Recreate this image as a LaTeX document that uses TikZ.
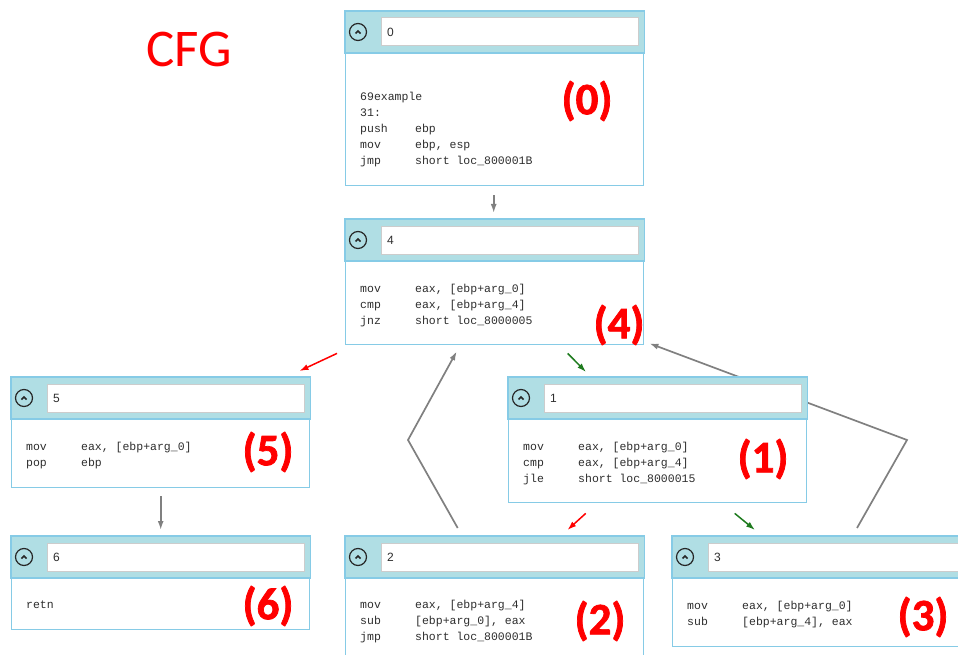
\documentclass[tikz,border=0pt]{standalone}
\usepackage{fontspec}
\setmainfont{Liberation Sans}
\newfontfamily\codefont{Liberation Mono}
\newfontfamily\tagfont{Carlito}
\newfontfamily\tagbold[FakeBold=1.6]{Carlito}
\usetikzlibrary{calc, arrows.meta}
\definecolor{cfgblue}{HTML}{86CBE6}
\definecolor{headblue}{HTML}{B0DEE4}
\definecolor{codegray}{HTML}{2E2E2E}
\definecolor{edgegray}{HTML}{808080}
\definecolor{truegreen}{HTML}{1E7B1E}
\newcommand{\asm}[2]{\strut\makebox[55pt][l]{#1}#2}

\begin{document}
\begin{tikzpicture}[x=1pt, y=-1pt,
    block/.style={draw=cfgblue, line width=1.4pt, fill=white, anchor=north west,
                  minimum width=298pt, inner sep=0pt},
    head/.style={fill=headblue, draw=cfgblue, line width=1.4pt},
    field/.style={fill=white, draw=black!20, line width=1pt},
    icon/.style={draw=black!85, line width=1.2pt},
    code/.style={anchor=north west, align=left, inner sep=0pt, text=codegray,
                 font=\codefont\fontsize{11.5}{16}\selectfont},
    tag/.style={text=red, inner sep=0pt, font=\tagbold\bfseries\fontsize{45}{45}\selectfont},
    flow/.style={draw=edgegray, line width=1.7pt, -{Latex[length=9pt, width=6pt]}},
    falsearc/.style={draw=red, line width=1.5pt, -{Latex[length=9pt, width=6pt]}},
    truearc/.style={draw=truegreen, line width=1.5pt, -{Latex[length=9pt, width=6pt]}}]
        \useasboundingbox (0,0) rectangle (958,655);
        \clip (0,0) rectangle (958,655);
        % blocks
        \node[block, minimum height=174pt] (b0) at (345,11) {};
        \node[block, minimum height=125pt] (b4) at (345,219) {};
        \node[block, minimum height=110pt] (b5) at (11,377) {};
        \node[block, minimum height=125pt] (b1) at (508,377) {};
        \node[block, minimum height=93pt] (b6) at (11,536) {};
        \node[block, minimum height=130pt] (b2) at (345,536) {};
        \node[block, minimum height=110pt] (b3) at (672,536) {};
        % back edges run under block 1
        \coordinate (c24) at (408,440);
        \coordinate (c34) at (907,440);
        \draw[flow] ($(b2.north)+(-37,-8)$) -- (c24) -- ($(b4.south)+(-38,6)$);
        \draw[flow] ($(b3.north west)+(185,-8)$) -- (c34) -- ($(b4.south east)+(5,-2)$);
        \node[block, minimum height=125pt] at (508,377) {};
        % headers
        \foreach \b/\n in {b0/0, b4/4, b5/5, b1/1, b6/6, b2/2, b3/3} {
            \filldraw[head] (\b.north west) rectangle ($(\b.north east)+(0,42)$);
            \draw[field] ($(\b.north west)+(36,7)$) rectangle ($(\b.north east)+(-6,35)$);
            \draw[icon] ($(\b.north west)+(13,21)$) circle (8.5pt);
            \draw[icon, line width=1.6pt] ($(\b.north west)+(10.5,22.5)$) -- ++(2.5,-2.5) -- ++(2.5,2.5);
            \node[anchor=west, inner sep=0pt, font=\fontsize{12}{14}\selectfont, text=codegray]
                (h\n) at ($(\b.north west)+(42,21)$) {\n};
        }
        % code
        \node[code] (t0) at ($(b0.north west)+(15,78)$)
            {\asm{69example}{}\\ \asm{31:}{}\\ \asm{push}{ebp}\\ \asm{mov}{ebp, esp}\\
             \asm{jmp}{short loc\_800001B}};
        \node[code] (t4) at ($(b4.north west)+(15,62)$)
            {\asm{mov}{eax, [ebp+arg\_0]}\\ \asm{cmp}{eax, [ebp+arg\_4]}\\
             \asm{jnz}{short loc\_8000005}};
        \node[code] (t5) at ($(b5.north west)+(15,62)$)
            {\asm{mov}{eax, [ebp+arg\_0]}\\ \asm{pop}{ebp}};
        \node[code] (t1) at ($(b1.north west)+(15,62)$)
            {\asm{mov}{eax, [ebp+arg\_0]}\\ \asm{cmp}{eax, [ebp+arg\_4]}\\
             \asm{jle}{short loc\_8000015}};
        \node[code] (t6) at ($(b6.north west)+(15,61)$) {\asm{retn}{}};
        \node[code] (t2) at ($(b2.north west)+(15,61)$)
            {\asm{mov}{eax, [ebp+arg\_4]}\\ \asm{sub}{[ebp+arg\_0], eax}\\
             \asm{jmp}{short loc\_800001B}};
        \node[code] (t3) at ($(b3.north west)+(15,62)$)
            {\asm{mov}{eax, [ebp+arg\_0]}\\ \asm{sub}{[ebp+arg\_4], eax}};
        % edges
        \draw[flow] ($(b0.south)+(-1,9)$) -- ($(b4.north)+(-1,-6)$);
        \draw[falsearc] ($(b4.south west)+(-8,8)$) -- ($(b5.north east)+(-11,-6)$);
        \draw[truearc] ($(b4.south)+(73,8)$) -- ($(b1.north west)+(78,-5)$);
        \draw[falsearc] ($(b1.south)+(-72,10)$) -- ($(b2.north east)+(-77,-6)$);
        \draw[truearc] ($(b1.south)+(77,10)$) -- ($(b3.north west)+(83,-6)$);
        \draw[flow] ($(b5.south)+(0,8)$) -- ($(b6.north)+(0,-6)$);
        % labels
        \node[text=red, inner sep=0pt, font=\tagfont\fontsize{53}{53}\selectfont] (cfg) at (189,49) {CFG};
        \node[tag] (l0) at (587,101) {(0)};
        \node[tag] (l4) at (619,325) {(4)};
        \node[tag] (l5) at (268,452) {(5)};
        \node[tag] (l1) at (763,459) {(1)};
        \node[tag] (l6) at (268,606) {(6)};
        \node[tag] (l2) at (600,621) {(2)};
        \node[tag] (l3) at (923,617) {(3)};
\end{tikzpicture}
\end{document}
